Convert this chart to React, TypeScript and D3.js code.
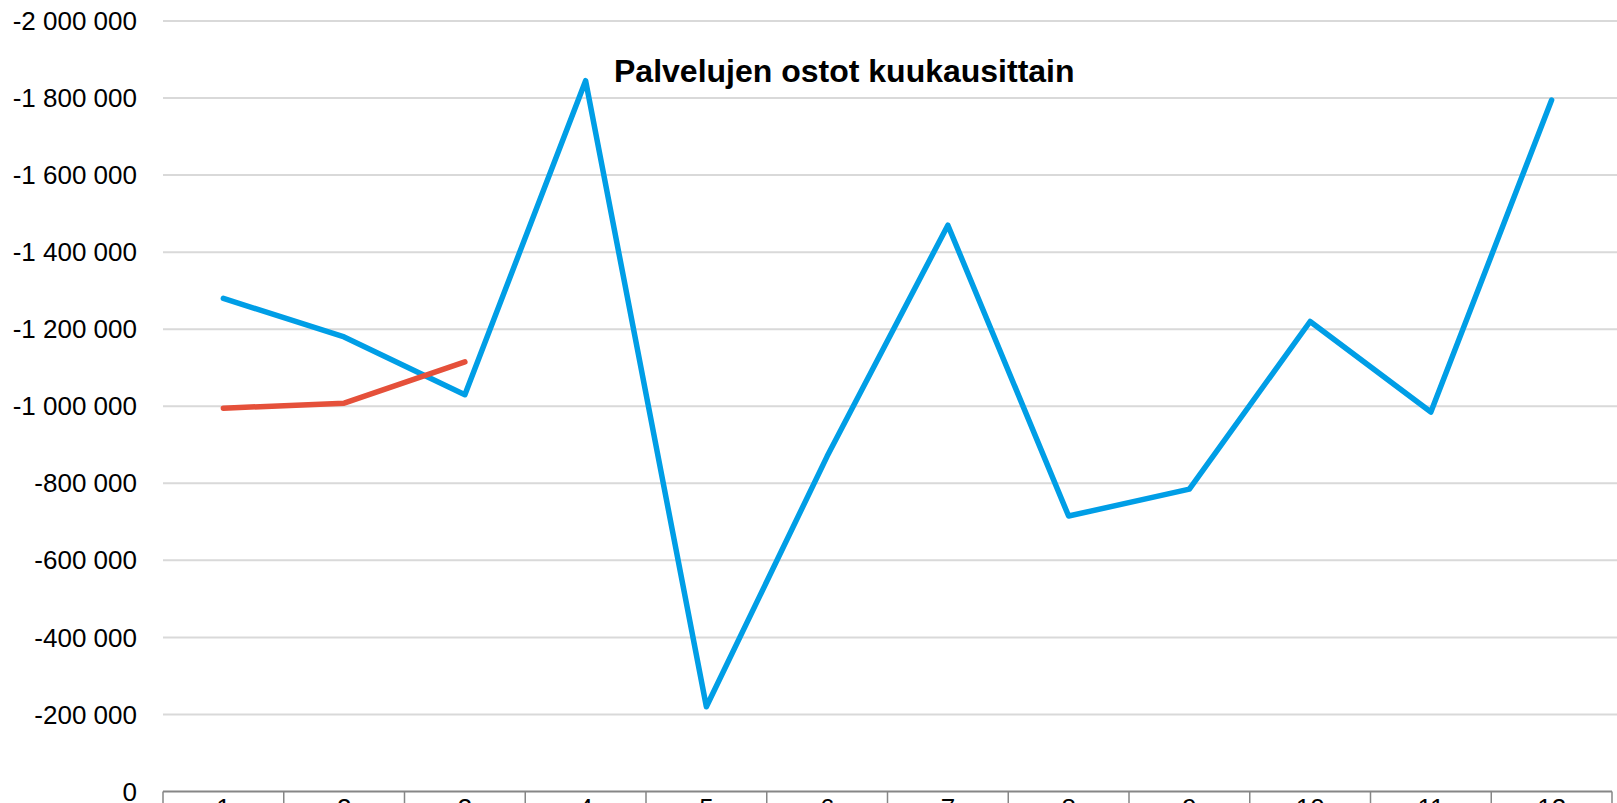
import React, { useEffect, useRef } from "react";
import * as d3 from "d3";

const kuukaudet = ["1", "2", "3", "4", "5", "6", "7", "8", "9", "10", "11", "12"];
const ostot2023 = [-1280000, -1180000, -1030000, -1845000, -220000, -870000, -1470000, -715000, -785000, -1220000, -985000, -1795000];
const ostot2024 = [-995000, -1008000, -1115000];
const yTicks = [0, -200000, -400000, -600000, -800000, -1000000, -1200000, -1400000, -1600000, -1800000, -2000000];
const otsikko = "Palvelujen ostot kuukausittain";

const W = 1617;
const H = 803;
const margem = { top: 21, bottom: 11.5, left: 163, right: 5 };

const fi = d3.formatLocale({ decimal: ",", thousands: " ", grouping: [3], currency: ["", ""], minus: "-" });
const fmt = fi.format(",d");

export default function App() {
    const ref = useRef<SVGSVGElement>(null);

    useEffect(() => {
        const svg = d3.select(ref.current);
        svg.selectAll("*").remove();

        const x = d3.scaleBand()
            .domain(kuukaudet)
            .range([margem.left, W - margem.right]);

        const y = d3.scaleLinear()
            .domain([0, -2000000])
            .range([H - margem.bottom, margem.top]);

        // vaakaviivat
        svg.append("g")
            .selectAll("line")
            .data(yTicks.filter(d => d !== 0))
            .join("line")
            .attr("x1", margem.left)
            .attr("x2", W)
            .attr("y1", d => y(d))
            .attr("y2", d => y(d))
            .attr("stroke", "#d9d9d9")
            .attr("stroke-width", 2);

        // y-akselin tekstit
        svg.append("g")
            .selectAll("text")
            .data(yTicks)
            .join("text")
            .attr("x", 137)
            .attr("y", d => y(d))
            .attr("dy", "0.35em")
            .attr("text-anchor", "end")
            .attr("font-family", "Liberation Sans, Arial, sans-serif")
            .attr("font-size", 26)
            .attr("fill", "#000")
            .text(d => fmt(d));

        // x-akseli
        const xAxis = svg.append("g")
            .attr("transform", `translate(0, ${y(0)})`)
            .call(d3.axisBottom(x).tickSize(0).tickPadding(7).tickSizeOuter(0));
        xAxis.select(".domain").remove();
        xAxis.selectAll("text")
            .attr("font-family", "Liberation Sans, Arial, sans-serif")
            .attr("font-size", 26)
            .attr("fill", "#000");

        const rajat = [...kuukaudet.map(k => x(k) ?? 0), (x(kuukaudet[11]) ?? 0) + x.bandwidth()];
        svg.append("g")
            .selectAll("line")
            .data(rajat)
            .join("line")
            .attr("x1", d => d)
            .attr("x2", d => d)
            .attr("y1", y(0))
            .attr("y2", H + 20)
            .attr("stroke", "#868686")
            .attr("stroke-width", 1.5);
        svg.append("line")
            .attr("x1", margem.left)
            .attr("x2", W - margem.right)
            .attr("y1", y(0))
            .attr("y2", y(0))
            .attr("stroke", "#868686")
            .attr("stroke-width", 2);

        const line = d3.line<number>()
            .x((_, i) => (x(kuukaudet[i]) ?? 0) + x.bandwidth() / 2)
            .y(d => y(d));

        svg.append("path")
            .datum(ostot2023)
            .attr("d", line)
            .attr("fill", "none")
            .attr("stroke", "#009ee6")
            .attr("stroke-width", 5.5)
            .attr("stroke-linejoin", "round")
            .attr("stroke-linecap", "round");

        svg.append("path")
            .datum(ostot2024)
            .attr("d", line)
            .attr("fill", "none")
            .attr("stroke", "#e5503a")
            .attr("stroke-width", 5.5)
            .attr("stroke-linejoin", "round")
            .attr("stroke-linecap", "round");

        svg.append("text")
            .attr("x", 614)
            .attr("y", 82)
            .attr("font-family", "Liberation Sans, Arial, sans-serif")
            .attr("font-weight", "bold")
            .attr("font-size", 32)
            .attr("fill", "#000")
            .text(otsikko);
    }, []);

    return (
        <svg
            ref={ref}
            width={W}
            height={H}
            style={{ position: "fixed", left: 0, top: 0, background: "#fff", overflow: "hidden" }}
        />
    );
}
